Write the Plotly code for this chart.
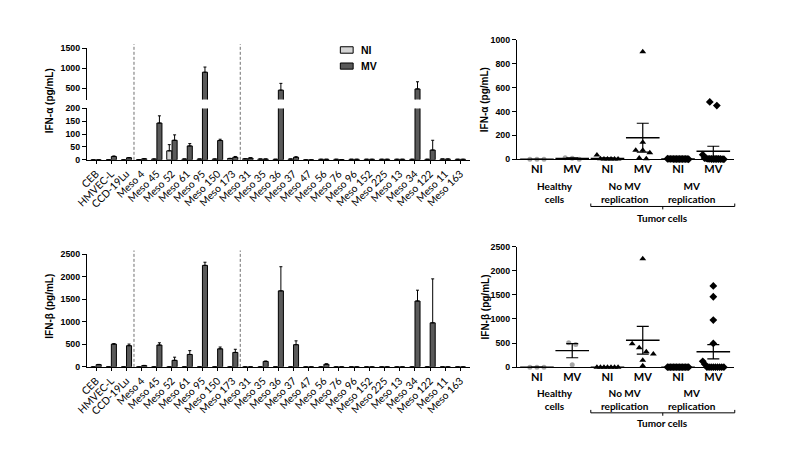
import numpy as np
import plotly.graph_objects as go

# ---------------- data ----------------
categories = ["CEB", "HMVEC-L", "CCD-19Lu", "Meso 4", "Meso 45", "Meso 52", "Meso 61",
              "Meso 95", "Meso 150", "Meso 173", "Meso 31", "Meso 35", "Meso 36",
              "Meso 37", "Meso 47", "Meso 56", "Meso 76", "Meso 96", "Meso 152",
              "Meso 225", "Meso 13", "Meso 34", "Meso 122", "Meso 11", "Meso 163"]
group_sizes = [3, 7, 15]  # healthy, no MV replication, MV replication

ifna_ni = [0, 0, 0, 1, 3, 35, 3, 3, 3, 5, 4, 3, 2, 3, 0, 2, 2, 2, 2, 2, 2, 2, 2, 3, 2]
ifna_ni_err = [0, 0, 0, 0, 0, 24, 0, 0, 0, 1, 0, 0, 0, 0, 0, 0, 0, 0, 0, 0, 0, 0, 0, 0, 0]
ifna_mv = [0, 13, 8, 4, 143, 76, 54, 900, 75, 10, 7, 3, 450, 10, 0, 2, 1, 2, 2, 2, 2, 480, 38, 3, 2]
ifna_mv_err = [0, 2, 1, 0, 28, 21, 9, 130, 5, 3, 1, 0, 170, 2, 0, 0, 0, 0, 0, 0, 0, 180, 38, 0, 0]

ifnb_ni = [0] * 25
ifnb_ni_err = [0] * 25
ifnb_mv = [50, 505, 470, 28, 484, 145, 275, 2250, 400, 320, 0, 120, 1685, 492, 0, 58,
           0, 0, 0, 0, 0, 1460, 976, 0, 0]
ifnb_mv_err = [5, 10, 35, 5, 50, 70, 85, 70, 40, 70, 0, 10, 535, 85, 0, 10,
               0, 0, 0, 0, 0, 240, 975, 0, 0]

scatter_ticks = ["NI", "MV", "NI", "MV", "NI", "MV"]
group_names = ["Healthy<br>cells", "No MV<br>replication", "MV<br>replication"]

alpha_ticks_low = [0, 50, 100, 150, 200]
alpha_ticks_high = [500, 1000, 1500]
beta_ticks = [0, 500, 1000, 1500, 2000, 2500]
alpha_sc_ticks = [0, 200, 400, 600, 800, 1000]

# ---------------- helpers ----------------
W, H = 788, 455
def fx(x): return x / W
def fy(y): return 1 - y / H

NI_COL = "#d4d4d4"
MV_COL = "#5a5a5a"
TICKF = dict(family="Liberation Sans", size=8.8, color="black", weight="bold")
CATF = dict(family="Lato", size=10.3, color="black")

def swarm(vals, thr, maxw=0.6, step=0.2):
    vals = np.asarray(vals, float)
    order = np.argsort(-vals, kind="stable")
    offs = np.zeros(len(vals))
    clusters, cur = [], [order[0]]
    for a, b in zip(order[:-1], order[1:]):
        if vals[a] - vals[b] <= thr:
            cur.append(b)
        else:
            clusters.append(cur)
            cur = [b]
    clusters.append(cur)
    for cl in clusters:
        n = len(cl)
        if n > 1:
            s = min(step, maxw / (n - 1))
            for i, k in enumerate(cl):
                offs[k] = (i - (n - 1) / 2) * s
    return offs

fig = go.Figure()

def add_bars(ni, ni_err, mv, mv_err, xa, ya):
    fig.add_trace(go.Bar(x=categories, y=ni, name="NI", xaxis=xa, yaxis=ya,
                         marker=dict(color=NI_COL, line=dict(color="black", width=1)),
                         error_y=dict(type="data", symmetric=False, array=ni_err,
                                      arrayminus=[0] * len(ni), color="black",
                                      thickness=1, width=1.5),
                         showlegend=False))
    fig.add_trace(go.Bar(x=categories, y=mv, name="MV", xaxis=xa, yaxis=ya,
                         marker=dict(color=MV_COL, line=dict(color="black", width=1)),
                         error_y=dict(type="data", symmetric=False, array=mv_err,
                                      arrayminus=[0] * len(mv), color="black",
                                      thickness=1, width=1.5),
                         showlegend=False))

add_bars(ifna_ni, ifna_ni_err, ifna_mv, ifna_mv_err, "x", "y")
add_bars(ifna_ni, ifna_ni_err, ifna_mv, ifna_mv_err, "x", "y2")
add_bars(ifnb_ni, ifnb_ni_err, ifnb_mv, ifnb_mv_err, "x2", "y3")

# ---------------- scatter panels ----------------
bounds = np.cumsum([0] + group_sizes)
symbols = ["circle", "triangle-up", "diamond"]
colors = ["#a6a6a6", "black", "black"]
sizes = [5, 6, 6]

def add_scatter(ni, mv, xa, ya, thr):
    for g in range(3):
        sl = slice(bounds[g], bounds[g + 1])
        for j, vals in enumerate([ni[sl], mv[sl]]):
            c = 2 * g + j
            offs = swarm(vals, thr, maxw=0.6, step=0.2)
            fig.add_trace(go.Scatter(x=c + offs, y=vals, mode="markers", xaxis=xa, yaxis=ya,
                                     marker=dict(symbol=symbols[g], color=colors[g], size=sizes[g],
                                                 line=dict(width=0)),
                                     cliponaxis=False, showlegend=False))
            v = np.asarray(vals, float)
            m = v.mean()
            sem = v.std(ddof=1) / np.sqrt(len(v))
            fig.add_trace(go.Scatter(x=[c], y=[m], mode="markers", xaxis=xa, yaxis=ya,
                                     marker=dict(symbol="line-ew", size=24, color="black",
                                                 line=dict(width=1.3, color="black")),
                                     error_y=dict(type="data", array=[sem], color="black",
                                                  thickness=1.2, width=6),
                                     cliponaxis=False, showlegend=False))

add_scatter(ifna_ni, ifna_mv, "x3", "y4", 40)
add_scatter(ifnb_ni, ifnb_mv, "x4", "y5", 100)

# ---------------- axes ----------------
bar_x = dict(domain=[fx(77), fx(465)], range=[-0.6, 24.6], type="category",
             showline=True, linecolor="black", linewidth=1, ticks="outside", ticklen=3,
             tickcolor="black", tickangle=-45, tickfont=CATF, showgrid=False, zeroline=False)
yax = dict(showline=True, linecolor="black", linewidth=1, ticks="outside", ticklen=4,
           tickcolor="black", tickfont=TICKF, showgrid=False, zeroline=False)

sc_x = dict(domain=[fx(513), fx(733)], range=[-0.57, 5.58], tickvals=list(range(6)),
            ticktext=scatter_ticks, showline=True, linecolor="black", linewidth=1,
            ticks="", tickfont=dict(family="Lato", size=11, color="black", weight="bold"),
            showgrid=False, zeroline=False)

fig.update_layout(
    width=W, height=H, margin=dict(l=0, r=0, t=0, b=0),
    paper_bgcolor="white", plot_bgcolor="white",
    barmode="group", bargap=0.3, bargroupgap=0.05,
    xaxis=dict(bar_x, anchor="y"),
    yaxis=dict(yax, domain=[fy(158.3), fy(105.7)], range=[0, 200], tickvals=alpha_ticks_low, anchor="x"),
    yaxis2=dict(yax, domain=[fy(96.7), fy(44.3)], range=[213, 1500], tickvals=alpha_ticks_high, anchor="x"),
    xaxis2=dict(bar_x, anchor="y3"),
    yaxis3=dict(yax, domain=[fy(370), fy(254.7)], range=[0, 2500], tickvals=beta_ticks, anchor="x2"),
    xaxis3=dict(sc_x, anchor="y4"),
    yaxis4=dict(yax, domain=[fy(157.7), fy(35.7)], range=[0, 1000], tickvals=alpha_sc_ticks, anchor="x3"),
    xaxis4=dict(sc_x, anchor="y5"),
    yaxis5=dict(yax, domain=[fy(370.3), fy(247)], range=[0, 2500], tickvals=beta_ticks, anchor="x4"),
    font=dict(family="Liberation Sans", color="black"),
)

shapes = []
# dashed group separators
seps = [bounds[1] - 0.5, bounds[2] - 0.5]
for s in seps:
    shapes.append(dict(type="line", xref="x", yref="paper", x0=s, x1=s, y0=fy(158.3), y1=fy(40),
                       line=dict(color="#707070", width=1, dash="3px,2px")))
    shapes.append(dict(type="line", xref="x2", yref="paper", x0=s, x1=s, y0=fy(370), y1=fy(251),
                       line=dict(color="#707070", width=1, dash="3px,2px")))

# legend boxes
for (y0, y1, col) in [(42.7, 49.3, NI_COL), (59.3, 65.6, MV_COL)]:
    shapes.append(dict(type="rect", xref="paper", yref="paper", x0=fx(334), x1=fx(347),
                       y0=fy(y1), y1=fy(y0), fillcolor=col, line=dict(color="black", width=1)))

# tumor brackets
def bracket(yb):
    xl, xr, xm = fx(588), fx(734), fx(661)
    out = [dict(type="line", xref="paper", yref="paper", x0=xl, x1=xr, y0=fy(yb), y1=fy(yb)),
           dict(type="line", xref="paper", yref="paper", x0=xl, x1=xl, y0=fy(yb), y1=fy(yb - 3)),
           dict(type="line", xref="paper", yref="paper", x0=xr, x1=xr, y0=fy(yb), y1=fy(yb - 3)),
           dict(type="line", xref="paper", yref="paper", x0=xm, x1=xm, y0=fy(yb), y1=fy(yb + 3))]
    for o in out:
        o["line"] = dict(color="black", width=1)
    return out

shapes += bracket(206) + bracket(417)
fig.update_layout(shapes=shapes)

ann = []
TITF = dict(family="Liberation Sans", size=10, color="black", weight="bold")
for (x, y, t) in [(39, 98, "IFN-α (pg/mL)"), (39, 308, "IFN-β (pg/mL)"),
                  (481, 97, "IFN-α (pg/mL)"), (481, 309, "IFN-β (pg/mL)")]:
    ann.append(dict(x=fx(x), y=fy(y), xref="paper", yref="paper", text=t, textangle=-90,
                    showarrow=False, font=TITF, xanchor="center", yanchor="middle"))
LEGF = dict(family="Liberation Sans", size=10.5, color="black", weight="bold")
ann.append(dict(x=fx(353), y=fy(46), xref="paper", yref="paper", text="NI", showarrow=False,
                font=LEGF, xanchor="left", yanchor="middle"))
ann.append(dict(x=fx(353), y=fy(62.5), xref="paper", yref="paper", text="MV", showarrow=False,
                font=LEGF, xanchor="left", yanchor="middle"))

GF = dict(family="Lato", size=10, color="black", weight="bold")
gx = [0.5, 2.5, 4.4]
for (xa, ymid, ytum) in [("x3", 192.2, 217.3), ("x4", 403.0, 427.7)]:
    for g in range(3):
        ann.append(dict(x=gx[g], y=fy(ymid), xref=xa, yref="paper", text=group_names[g],
                        showarrow=False, font=GF, xanchor="center", yanchor="middle"))
    ann.append(dict(x=fx(661), y=fy(ytum), xref="paper", yref="paper", text="Tumor cells",
                    showarrow=False, font=GF, xanchor="center", yanchor="middle"))
fig.update_layout(annotations=ann)

fig.write_html("out.html", config={"displayModeBar": False},
               post_script="document.body.style.margin='0';")
